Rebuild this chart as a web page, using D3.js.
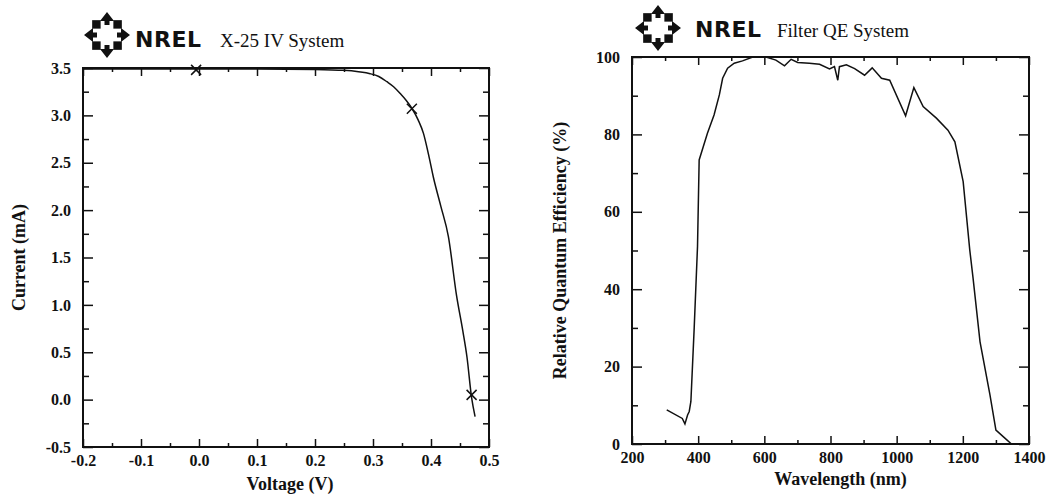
<!DOCTYPE html>
<html lang="en">
<head>
    <title>NREL IV and QE charts</title>
    <meta charset="UTF-8">
    <script src="https://cdn.jsdelivr.net/npm/d3@7"></script>
    <style>
        body {
            margin: 0;
            background: #fff;
        }

        svg text {
            font-family: "Liberation Serif", "DejaVu Serif", serif;
            fill: #111;
        }

        .tick text {
            font-size: 16px;
            font-weight: bold;
        }

        .tick line {
            stroke: #111;
            stroke-width: 1.5px;
        }

        .frame {
            fill: none;
            stroke: #111;
            stroke-width: 2px;
        }

        .curve {
            fill: none;
            stroke: #111;
            stroke-width: 1.5px;
        }

        .axis-title {
            font-size: 18px;
            font-weight: bold;
        }

        .chart-title {
            font-size: 19px;
        }

        .nrel {
            font-family: "DejaVu Sans", sans-serif !important;
            font-weight: bold;
            font-size: 22px;
        }
    </style>
</head>
<body>
<svg id="chart" width="1052" height="495"></svg>

<script>
    // IV curve (left)
    var voltage = [-0.2, -0.1, 0.0, 0.1, 0.2, 0.25, 0.275, 0.295, 0.31, 0.324, 0.336, 0.347, 0.357, 0.367,
        0.378, 0.387, 0.396, 0.404, 0.417, 0.43, 0.444, 0.455, 0.462, 0.470, 0.476]
    var current = [3.49, 3.49, 3.49, 3.49, 3.485, 3.475, 3.46, 3.44, 3.41, 3.355, 3.30, 3.23, 3.16, 3.075,
        2.95, 2.81, 2.58, 2.35, 2.04, 1.72, 1.10, 0.72, 0.45, 0.02, -0.18]
    var markV = [-0.005, 0.367, 0.470]
    var markI = [3.48, 3.07, 0.05]
    var ivXTicks = [-0.2, -0.1, 0.0, 0.1, 0.2, 0.3, 0.4, 0.5]
    var ivYTicks = [-0.5, 0.0, 0.5, 1.0, 1.5, 2.0, 2.5, 3.0, 3.5]

    // QE curve (right)
    var wavelength = [305, 352, 360, 368, 373, 378, 388, 398, 403, 428, 448, 464, 474, 489, 509, 534, 565, 605,
        635, 661, 681, 701, 736, 767, 797, 812, 822, 827, 848, 873, 903, 926, 954, 979, 1027, 1052, 1080,
        1120, 1155, 1176, 1201, 1221, 1231, 1252, 1282, 1300, 1322, 1347, 1373]
    var qe = [8.8, 6.6, 5.2, 7.5, 8.4, 11, 30, 51, 73.4, 80.3, 85, 90.2, 94.5, 97.1, 98.4, 99, 100, 100,
        99.2, 97.7, 99.4, 98.6, 98.4, 98.1, 96.9, 97.5, 94, 97.5, 98, 97, 95.3, 97.2, 94.5, 94, 84.8, 92.1, 87.2,
        84.2, 81.1, 78.1, 67.8, 50.1, 42.8, 26.4, 12.7, 3.6, 1.9, 0, 0]
    var qeXTicks = [200, 400, 600, 800, 1000, 1200, 1400]
    var qeYTicks = [0, 20, 40, 60, 80, 100]

    var svg = d3.select('#chart')

    function mids(t) {
        var out = []
        for (var i = 0; i < t.length - 1; i++) out.push((t[i] + t[i + 1]) / 2)
        return out
    }

    function frameAxes(g, x, y, xt, yt, xfmt, yfmt, w, h) {
        var xm = mids(xt), ym = mids(yt)
        var ax = [
            [d3.axisBottom(x).tickValues(xt).tickSize(-8).tickPadding(8).tickFormat(xfmt), 'translate(0,' + h + ')'],
            [d3.axisBottom(x).tickValues(xm).tickSize(-4).tickFormat(''), 'translate(0,' + h + ')'],
            [d3.axisTop(x).tickValues(xt).tickSize(-8).tickFormat(''), 'translate(0,0)'],
            [d3.axisTop(x).tickValues(xm).tickSize(-4).tickFormat(''), 'translate(0,0)'],
            [d3.axisLeft(y).tickValues(yt).tickSize(-10).tickPadding(12).tickFormat(yfmt), 'translate(0,0)'],
            [d3.axisLeft(y).tickValues(ym).tickSize(-6).tickFormat(''), 'translate(0,0)'],
            [d3.axisRight(y).tickValues(yt).tickSize(-10).tickFormat(''), 'translate(' + w + ',0)'],
            [d3.axisRight(y).tickValues(ym).tickSize(-6).tickFormat(''), 'translate(' + w + ',0)']
        ]
        ax.forEach(function (a) {
            var s = g.append('g').attr('transform', a[1]).call(a[0])
            s.select('.domain').remove()
        })
        g.append('rect').attr('class', 'frame').attr('width', w).attr('height', h)
    }

    function logo(cx, cy, tx, ty, title, titleX) {
        var L = svg.append('g').attr('transform', 'translate(' + cx + ',' + cy + ')')
        d3.range(8).forEach(function (k) {
            var g = L.append('g').attr('transform', 'rotate(' + (k * 45) + ')')
            if (k % 2 === 0) {
                // arrow pointing outward
                g.append('path').attr('d', 'M0,-23 L-7,-14 L-2.5,-14 L-2.5,-10 L2.5,-10 L2.5,-14 L7,-14 Z')
                    .attr('fill', '#111')
            } else {
                g.append('path').attr('d', 'M0,-21 L6,-15 L0,-9 L-6,-15 Z').attr('fill', '#111')
            }
        })
        svg.append('text').attr('class', 'nrel').attr('x', tx).attr('y', ty)
            .attr('textLength', 66).text('NREL')
        svg.append('text').attr('class', 'chart-title').attr('x', titleX).attr('y', ty).text(title)
    }

    // left chart
    var m1 = {left: 83, top: 68}, w1 = 406, h1 = 379
    var g1 = svg.append('g').attr('transform', 'translate(' + m1.left + ',' + m1.top + ')')
    var x1 = d3.scaleLinear().domain([-0.2, 0.5]).range([0, w1])
    var y1 = d3.scaleLinear().domain([-0.5, 3.5]).range([h1, 0])
    frameAxes(g1, x1, y1, ivXTicks, ivYTicks, function (d) { return d.toFixed(1) },
        function (d) { return d.toFixed(1) }, w1, h1)

    var ivPts = voltage.map(function (v, i) { return [v, current[i]] })
    g1.append('path').attr('class', 'curve')
        .attr('d', d3.line().x(function (d) { return x1(d[0]) }).y(function (d) { return y1(d[1]) })
            .curve(d3.curveMonotoneX)(ivPts))
    markV.forEach(function (v, i) {
        var px = x1(v), py = y1(markI[i]), s = 5
        g1.append('path').attr('class', 'curve').attr('stroke-width', 2)
            .attr('d', 'M' + (px - s) + ',' + (py - s) + 'L' + (px + s) + ',' + (py + s) +
                'M' + (px - s) + ',' + (py + s) + 'L' + (px + s) + ',' + (py - s))
    })
    svg.append('text').attr('class', 'axis-title').attr('text-anchor', 'middle')
        .attr('x', m1.left + w1 / 2 + 4).attr('y', 490).text('Voltage (V)')
    svg.append('text').attr('class', 'axis-title').attr('text-anchor', 'middle')
        .attr('transform', 'translate(25,' + (m1.top + h1 / 2) + ') rotate(-90)').text('Current (mA)')
    logo(107, 35, 135, 47, 'X-25 IV System', 220)

    // right chart
    var m2 = {left: 632, top: 57}, w2 = 397, h2 = 387
    var g2 = svg.append('g').attr('transform', 'translate(' + m2.left + ',' + m2.top + ')')
    var x2 = d3.scaleLinear().domain([200, 1400]).range([0, w2])
    var y2 = d3.scaleLinear().domain([0, 100]).range([h2, 0])
    frameAxes(g2, x2, y2, qeXTicks, qeYTicks, d3.format('d'), d3.format('d'), w2, h2)

    var qePts = wavelength.map(function (l, i) { return [l, qe[i]] })
    g2.append('path').attr('class', 'curve')
        .attr('d', d3.line().x(function (d) { return x2(d[0]) }).y(function (d) { return y2(d[1]) })(qePts))
    svg.append('text').attr('class', 'axis-title').attr('text-anchor', 'middle')
        .attr('x', m2.left + w2 / 2 + 10).attr('y', 485).text('Wavelength (nm)')
    svg.append('text').attr('class', 'axis-title').attr('text-anchor', 'middle')
        .attr('transform', 'translate(566,' + (m2.top + h2 / 2) + ') rotate(-90)').text('Relative Quantum Efficiency (%)')
    logo(658, 28, 695, 37, 'Filter QE System', 777)
</script>
</body>
</html>
